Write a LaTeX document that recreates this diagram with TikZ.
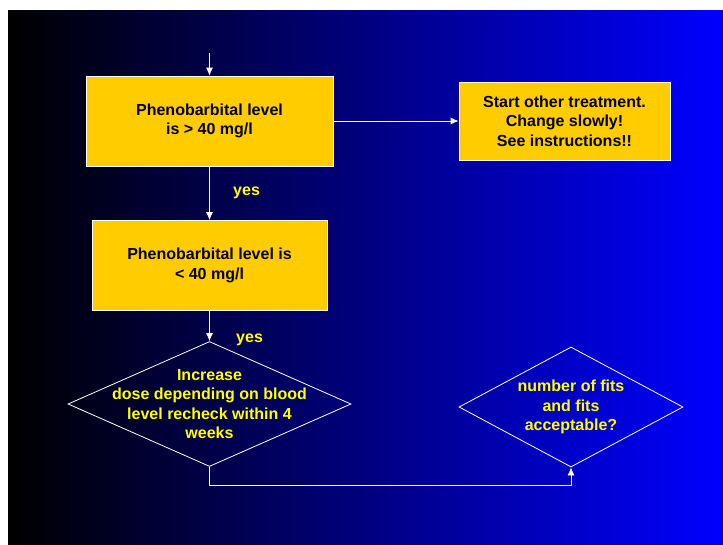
\documentclass[tikz,border=0pt]{standalone}
\usepackage{fontspec}
\setmainfont{Liberation Sans}
\usetikzlibrary{shapes.geometric, arrows, arrows.meta, positioning}
\definecolor{boxyellow}{RGB}{255,204,0}
\definecolor{textyellow}{RGB}{255,255,0}
\tikzset{
	x=1pt, y=-1pt,
	box/.style={rectangle, draw=white, line width=0.8pt, fill=boxyellow, text=black, font=\fontsize{16}{19.5}\selectfont\bfseries, align=center, inner sep=0pt},
	decision/.style={diamond, draw=white, line width=0.8pt, inner sep=0pt},
	dtext/.style={text=textyellow, font=\fontsize{16}{19.5}\selectfont\bfseries, align=center},
	arrow/.style={draw=white, line width=0.8pt, -{Latex[length=8pt, width=7pt]}}
}
\begin{document}
\begin{tikzpicture}
			% Background
			\useasboundingbox (0,0) rectangle (723,544);
			\fill [white] (0,0) rectangle (723,544);
			\shade [left color=black, middle color=blue!65!black, right color=blue] (8,10) rectangle (723,544);
			
			% Nodes
			\coordinate (start) at (209.5,53);
			\node (level1) [box, minimum width=247pt, minimum height=90pt] at (209.5,121) {Phenobarbital level\\is > 40 mg/l};
			\node (other) [box, minimum width=211pt, minimum height=78pt] at (564.5,121) {Start other treatment.\\Change slowly!\\See instructions!!};
			\node (level2) [box, minimum width=235pt, minimum height=90pt] at (209.5,265.5) {Phenobarbital level is\\< 40 mg/l};
			\node (dose) [decision, minimum width=283pt, minimum height=125pt, label={[dtext]center:{Increase\\dose depending on blood\\level recheck within 4\\weeks}}] at (209.5,404) {};
			\node (fits) [decision, minimum width=224pt, minimum height=120pt, label={[dtext]center:{number of fits\\and fits\\acceptable?}}] at (571,407) {};
			\coordinate (turn) at (209.5,485);
			
			% Arrows
			\draw [arrow] (start) -- (level1);
			\draw [arrow] (level1) -- (other);
			\draw [arrow] (level1) -- (level2) node[midway, right=20pt, dtext] {yes};
			\draw [arrow] (level2) -- (dose) node[pos=0.95, right=23pt, dtext] {yes};
			\draw [arrow] (dose.south) -- (turn) -| (fits.south);
		\end{tikzpicture}
\end{document}
